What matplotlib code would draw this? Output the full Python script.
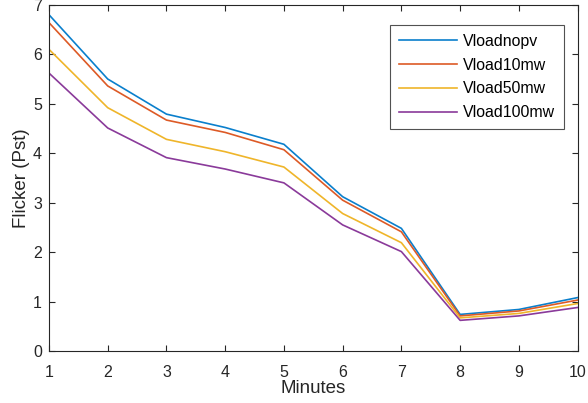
import matplotlib.pyplot as plt

plt.rcParams['font.family'] = ['Liberation Sans', 'DejaVu Sans']

minutes = [1, 2, 3, 4, 5, 6, 7, 8, 9, 10]
vload_nopv = [6.80, 5.50, 4.79, 4.52, 4.18, 3.12, 2.48, 0.74, 0.84, 1.08]
vload_10mw = [6.64, 5.36, 4.67, 4.42, 4.07, 3.05, 2.41, 0.71, 0.81, 1.03]
vload_50mw = [6.10, 4.92, 4.28, 4.03, 3.72, 2.78, 2.19, 0.67, 0.76, 0.96]
vload_100mw = [5.62, 4.51, 3.91, 3.68, 3.40, 2.55, 2.01, 0.62, 0.71, 0.88]

series = [
    ("Vloadnopv", vload_nopv, "#0a7fcc"),
    ("Vload10mw", vload_10mw, "#dd5a26"),
    ("Vload50mw", vload_50mw, "#efb52a"),
    ("Vload100mw", vload_100mw, "#8a3a9a"),
]

fig = plt.figure(figsize=(5.88, 4.03), dpi=100)
ax = fig.add_axes([0.0833, 0.129, 0.899, 0.859])

for label, vals, color in series:
    ax.plot(minutes, vals, color=color, linewidth=1.2, label=label)

ax.set_xlim(1, 10)
ax.set_ylim(0, 7)
ax.set_xticks(range(1, 11))
ax.set_yticks(range(0, 8))
axis_col = "#262626"
ax.tick_params(direction="in", top=True, right=True, length=4, width=0.8,
               labelsize=11.5, colors=axis_col)
ax.tick_params(axis="x", pad=10)
ax.tick_params(axis="y", pad=5)
for sp in ax.spines.values():
    sp.set_color(axis_col)
    sp.set_linewidth(0.8)
ax.set_xlabel("Minutes", fontsize=13.5, color=axis_col, labelpad=0)
ax.set_ylabel("Flicker (Pst)", fontsize=13.5, color=axis_col, labelpad=2)

leg = ax.legend(loc="upper right", bbox_to_anchor=(0.974, 0.941), borderaxespad=0,
                fontsize=11.4, frameon=True, fancybox=False, edgecolor=axis_col,
                handlelength=3.7, handletextpad=0.35, borderpad=0.55,
                labelspacing=0.55)
leg.get_frame().set_linewidth(0.8)

fig.savefig("out.png", dpi=100)
